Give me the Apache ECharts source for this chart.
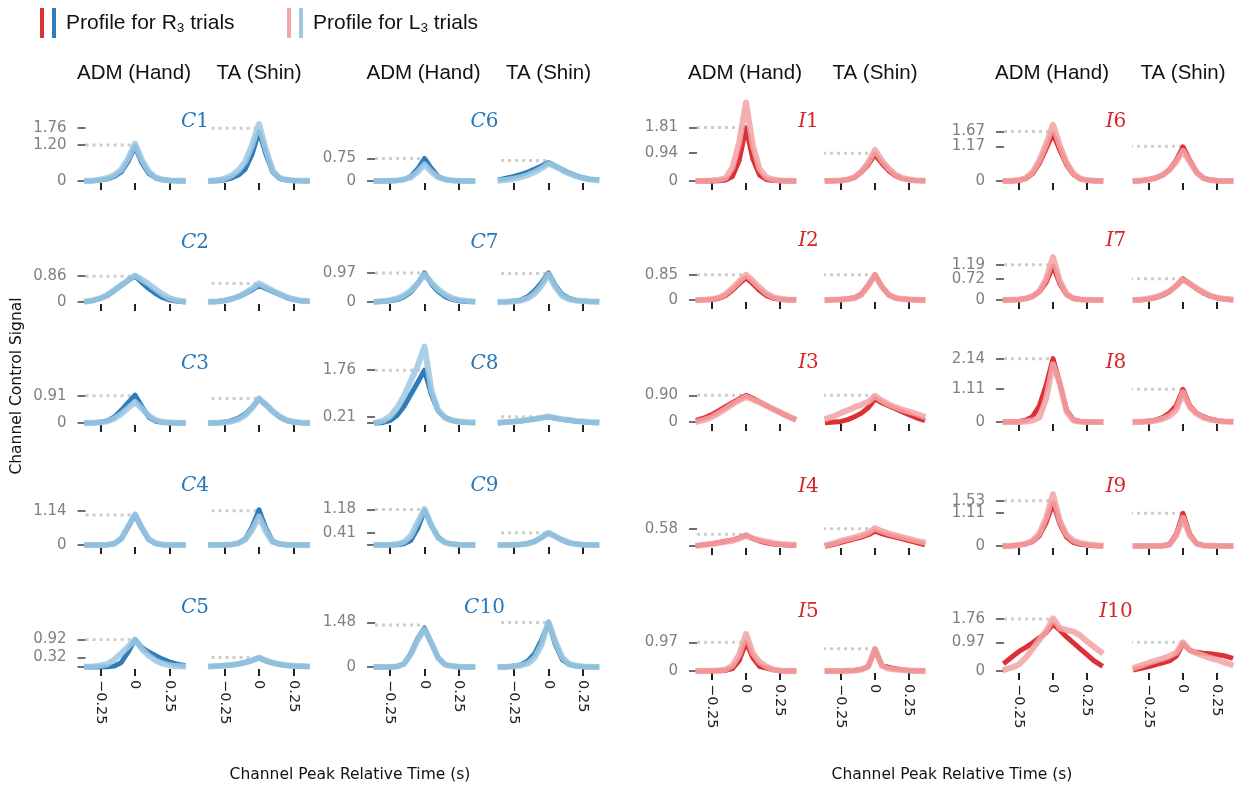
<!DOCTYPE html>
<html><head><meta charset="utf-8">
<script src="https://cdn.jsdelivr.net/npm/echarts@6/dist/echarts.min.js"></script>
<style>html,body{margin:0;padding:0;background:#fff}#c{width:1239px;height:787px}</style>
</head><body><div id="c"></div>
<script>
// ---------------- data ----------------
const TIME = [-0.35,-0.3,-0.25,-0.2,-0.15,-0.1,-0.05,0,0.05,0.1,0.15,0.2,0.25,0.3,0.35];
const X_TICKS = [-0.25, 0, 0.25];
const X_TICK_LABELS = ['\u22120.25', '0', '0.25'];
const PANEL_NAMES = ['C1','C2','C3','C4','C5','C6','C7','C8','C9','C10','I1','I2','I3','I4','I5','I6','I7','I8','I9','I10'];

const C1_ADM_R3 = [0,0.01,0.03,0.07,0.15,0.3,0.65,1.15,0.6,0.25,0.1,0.04,0.02,0.01,0];
const C1_ADM_L3 = [0.01,0.02,0.05,0.1,0.2,0.38,0.75,1.25,0.7,0.32,0.12,0.05,0.02,0.01,0.01];
const C1_TA_R3  = [0,0.01,0.04,0.1,0.2,0.4,0.9,1.65,0.9,0.3,0.08,0.03,0.02,0.01,0];
const C1_TA_L3  = [0.01,0.03,0.08,0.18,0.35,0.65,1.2,1.9,1.05,0.35,0.1,0.04,0.02,0.01,0.01];

const C2_ADM_R3 = [0.02,0.06,0.12,0.22,0.38,0.55,0.72,0.86,0.65,0.45,0.28,0.15,0.07,0.03,0.01];
const C2_ADM_L3 = [0.02,0.06,0.13,0.24,0.4,0.57,0.73,0.88,0.75,0.6,0.42,0.26,0.13,0.06,0.03];
const C2_TA_R3  = [0.01,0.02,0.05,0.1,0.18,0.28,0.4,0.55,0.45,0.35,0.25,0.15,0.08,0.04,0.02];
const C2_TA_L3  = [0.01,0.02,0.05,0.1,0.18,0.3,0.45,0.62,0.5,0.38,0.27,0.17,0.1,0.05,0.03];

const C3_ADM_R3 = [0,0.01,0.03,0.08,0.2,0.42,0.68,0.93,0.55,0.2,0.06,0.02,0.01,0,0];
const C3_ADM_L3 = [0,0.01,0.02,0.06,0.15,0.3,0.5,0.7,0.48,0.25,0.1,0.04,0.02,0.01,0];
const C3_TA_R3  = [0,0.01,0.03,0.08,0.16,0.3,0.52,0.8,0.6,0.38,0.2,0.08,0.03,0.01,0];
const C3_TA_L3  = [0,0.01,0.02,0.05,0.12,0.26,0.5,0.82,0.62,0.4,0.22,0.1,0.04,0.02,0.01];

const C4_ADM_R3 = [0,0,0,0.01,0.04,0.2,0.6,1.0,0.55,0.18,0.05,0.01,0,0,0];
const C4_ADM_L3 = [0,0,0,0.01,0.05,0.22,0.62,1.02,0.58,0.2,0.06,0.02,0.01,0,0];
const C4_TA_R3  = [0,0,0.01,0.02,0.06,0.2,0.6,1.17,0.55,0.12,0.03,0.01,0,0,0];
const C4_TA_L3  = [0,0,0.01,0.02,0.06,0.18,0.5,0.95,0.45,0.1,0.03,0.01,0,0,0];

const C5_ADM_R3 = [0,0,0,0.01,0.03,0.15,0.5,0.92,0.65,0.5,0.38,0.26,0.17,0.1,0.06];
const C5_ADM_L3 = [0.01,0.02,0.05,0.1,0.25,0.45,0.68,0.9,0.6,0.38,0.22,0.12,0.06,0.03,0.02];
const C5_TA_R3  = [0.02,0.03,0.05,0.07,0.1,0.15,0.22,0.3,0.2,0.13,0.08,0.05,0.03,0.02,0.02];
const C5_TA_L3  = [0.02,0.03,0.05,0.07,0.1,0.15,0.22,0.32,0.22,0.14,0.09,0.06,0.04,0.03,0.02];

const C6_ADM_R3 = [0,0,0.01,0.02,0.05,0.15,0.4,0.75,0.42,0.15,0.05,0.02,0.01,0,0];
const C6_ADM_L3 = [0,0,0.01,0.02,0.05,0.12,0.3,0.55,0.3,0.12,0.05,0.02,0.01,0,0];
const C6_TA_R3  = [0.05,0.1,0.15,0.22,0.3,0.4,0.5,0.62,0.5,0.38,0.27,0.18,0.11,0.06,0.04];
const C6_TA_L3  = [0.02,0.04,0.08,0.13,0.2,0.3,0.42,0.58,0.48,0.36,0.25,0.16,0.1,0.06,0.03];

const C7_ADM_R3 = [0.01,0.02,0.04,0.08,0.17,0.33,0.6,0.97,0.6,0.35,0.18,0.09,0.04,0.02,0.01];
const C7_ADM_L3 = [0.01,0.03,0.06,0.12,0.22,0.38,0.62,0.92,0.65,0.42,0.25,0.13,0.07,0.04,0.02];
const C7_TA_R3  = [0,0.01,0.03,0.07,0.18,0.38,0.65,0.97,0.55,0.25,0.12,0.06,0.03,0.02,0.01];
const C7_TA_L3  = [0,0.01,0.02,0.05,0.12,0.28,0.55,0.92,0.5,0.2,0.09,0.05,0.03,0.02,0.01];

const C8_ADM_R3 = [0,0.02,0.08,0.25,0.55,0.95,1.35,1.76,0.95,0.4,0.18,0.08,0.04,0.02,0.01];
const C8_ADM_L3 = [0.02,0.08,0.22,0.5,0.9,1.4,1.9,2.55,1.1,0.42,0.18,0.09,0.05,0.03,0.02];
const C8_TA_R3  = [0.01,0.03,0.05,0.07,0.1,0.13,0.17,0.21,0.16,0.12,0.09,0.06,0.04,0.02,0.01];
const C8_TA_L3  = [0.02,0.03,0.05,0.08,0.1,0.13,0.17,0.22,0.17,0.13,0.1,0.07,0.05,0.03,0.02];

const C9_ADM_R3 = [0,0,0,0.01,0.04,0.15,0.55,1.15,0.65,0.25,0.08,0.03,0.01,0,0];
const C9_ADM_L3 = [0,0,0.01,0.03,0.1,0.3,0.75,1.2,0.65,0.25,0.08,0.03,0.01,0,0];
const C9_TA_R3  = [0,0,0.01,0.02,0.05,0.12,0.25,0.4,0.28,0.16,0.07,0.03,0.01,0,0];
const C9_TA_L3  = [0,0,0.01,0.02,0.05,0.12,0.26,0.41,0.29,0.17,0.08,0.03,0.01,0,0];

const C10_ADM_R3 = [0,0,0,0.02,0.1,0.45,0.95,1.3,0.8,0.3,0.08,0.03,0.01,0,0];
const C10_ADM_L3 = [0,0,0,0.02,0.1,0.42,0.9,1.25,0.8,0.3,0.08,0.03,0.01,0,0];
const C10_TA_R3  = [0,0.01,0.03,0.08,0.2,0.45,0.9,1.48,0.75,0.25,0.08,0.03,0.01,0,0];
const C10_TA_L3  = [0,0.01,0.02,0.05,0.12,0.32,0.75,1.5,0.85,0.32,0.1,0.04,0.02,0.01,0];

const I1_ADM_R3 = [0,0,0,0.01,0.03,0.15,0.7,1.8,0.75,0.2,0.05,0.02,0.01,0,0];
const I1_ADM_L3 = [0,0.01,0.02,0.04,0.1,0.45,1.3,2.65,1.2,0.4,0.12,0.05,0.02,0.01,0];
const I1_TA_R3  = [0,0.01,0.02,0.05,0.12,0.3,0.55,0.9,0.6,0.35,0.18,0.08,0.04,0.02,0.01];
const I1_TA_L3  = [0,0.01,0.02,0.05,0.13,0.32,0.62,1.05,0.7,0.42,0.22,0.1,0.05,0.02,0.01];

const I2_ADM_R3 = [0,0.01,0.02,0.05,0.15,0.33,0.55,0.75,0.55,0.32,0.15,0.06,0.02,0.01,0];
const I2_ADM_L3 = [0,0.01,0.03,0.08,0.2,0.4,0.63,0.85,0.65,0.42,0.22,0.1,0.04,0.02,0.01];
const I2_TA_R3  = [0,0.01,0.02,0.04,0.08,0.2,0.5,0.85,0.45,0.18,0.07,0.03,0.02,0.01,0];
const I2_TA_L3  = [0,0.01,0.02,0.03,0.07,0.18,0.48,0.85,0.45,0.18,0.07,0.03,0.02,0.01,0];

const I3_ADM_R3 = [0.08,0.15,0.25,0.38,0.52,0.65,0.78,0.9,0.8,0.68,0.56,0.44,0.32,0.2,0.1];
const I3_ADM_L3 = [0.02,0.08,0.17,0.3,0.45,0.6,0.73,0.85,0.76,0.66,0.55,0.44,0.33,0.22,0.12];
const I3_TA_R3  = [-0.02,0,0.02,0.08,0.18,0.3,0.48,0.78,0.65,0.55,0.45,0.35,0.25,0.15,0.07];
const I3_TA_L3  = [0.12,0.2,0.3,0.4,0.5,0.58,0.68,0.88,0.72,0.6,0.5,0.42,0.35,0.28,0.2];

const I4_ADM_R3 = [0.02,0.05,0.08,0.12,0.16,0.2,0.27,0.37,0.25,0.17,0.11,0.07,0.05,0.03,0.02];
const I4_ADM_L3 = [0.02,0.04,0.07,0.1,0.14,0.18,0.25,0.35,0.26,0.2,0.15,0.1,0.07,0.05,0.04];
const I4_TA_R3  = [0.01,0.06,0.12,0.18,0.24,0.3,0.38,0.5,0.42,0.35,0.3,0.24,0.18,0.12,0.06];
const I4_TA_L3  = [0.04,0.1,0.17,0.23,0.29,0.36,0.45,0.6,0.5,0.42,0.36,0.3,0.24,0.18,0.13];

const I5_ADM_R3 = [0,0,0,0.01,0.02,0.08,0.35,0.97,0.45,0.15,0.1,0.04,0.01,0,0];
const I5_ADM_L3 = [0,0,0.01,0.02,0.05,0.18,0.55,1.25,0.6,0.3,0.15,0.05,0.02,0.01,0];
const I5_TA_R3  = [0,0,0,0.01,0.02,0.05,0.15,0.72,0.2,0.12,0.08,0.04,0.02,0.01,0];
const I5_TA_L3  = [0,0,0,0.01,0.02,0.05,0.15,0.75,0.18,0.08,0.05,0.03,0.02,0.01,0];

const I6_ADM_R3 = [0,0,0.02,0.08,0.25,0.6,1.1,1.6,1.05,0.55,0.22,0.07,0.02,0.01,0];
const I6_ADM_L3 = [0,0.01,0.03,0.1,0.3,0.7,1.25,1.9,1.2,0.62,0.25,0.08,0.03,0.01,0];
const I6_TA_R3  = [0,0.02,0.05,0.1,0.2,0.38,0.7,1.15,0.7,0.3,0.1,0.03,0.01,0,0];
const I6_TA_L3  = [0,0.02,0.05,0.1,0.2,0.38,0.65,1.02,0.65,0.28,0.1,0.03,0.01,0,0];

const I7_ADM_R3 = [0,0.01,0.02,0.05,0.12,0.28,0.6,1.15,0.55,0.18,0.05,0.02,0.01,0,0];
const I7_ADM_L3 = [0,0.01,0.02,0.05,0.12,0.3,0.72,1.45,0.65,0.2,0.06,0.02,0.01,0,0];
const I7_TA_R3  = [0,0.01,0.03,0.08,0.16,0.28,0.48,0.72,0.55,0.38,0.24,0.13,0.07,0.03,0.01];
const I7_TA_L3  = [0,0.02,0.05,0.1,0.18,0.3,0.48,0.7,0.55,0.4,0.26,0.15,0.08,0.04,0.02];

const I8_ADM_R3 = [0,0.01,0.02,0.06,0.18,0.55,1.25,2.14,1.3,0.4,0.08,0.02,0.01,0,0];
const I8_ADM_L3 = [0,0,0,0.02,0.05,0.15,0.8,1.95,1.3,0.35,0.05,0.01,0,0,0];
const I8_TA_R3  = [0,0.01,0.03,0.07,0.15,0.3,0.55,1.1,0.55,0.3,0.18,0.1,0.05,0.02,0.01];
const I8_TA_L3  = [0,0.01,0.02,0.05,0.1,0.2,0.4,1.0,0.5,0.28,0.15,0.08,0.04,0.02,0.01];

const I9_ADM_R3 = [0,0.01,0.03,0.07,0.15,0.35,0.8,1.45,0.75,0.3,0.12,0.06,0.03,0.01,0];
const I9_ADM_L3 = [0,0.01,0.03,0.08,0.18,0.42,0.95,1.75,0.85,0.38,0.18,0.1,0.06,0.03,0.01];
const I9_TA_R3  = [0,0,0,0,0.01,0.05,0.4,1.1,0.4,0.08,0.02,0.01,0,0,0];
const I9_TA_L3  = [0,0,0,0,0.01,0.05,0.35,0.95,0.35,0.08,0.02,0.01,0,0,0];

const I10_ADM_R3 = [0.3,0.48,0.66,0.8,0.95,1.12,1.3,1.58,1.38,1.15,0.95,0.75,0.55,0.35,0.2];
const I10_ADM_L3 = [0.05,0.12,0.22,0.45,0.75,1.05,1.35,1.78,1.45,1.38,1.33,1.2,1.0,0.82,0.65];
const I10_TA_R3  = [0.05,0.1,0.15,0.22,0.28,0.34,0.5,0.92,0.7,0.63,0.6,0.58,0.55,0.52,0.45];
const I10_TA_L3  = [0.12,0.2,0.28,0.35,0.42,0.5,0.62,0.97,0.7,0.6,0.52,0.44,0.38,0.3,0.22];

// reference (dotted) levels per panel
const PEAK_ADM = [1.20,0.86,0.91,1.00,0.92,0.75,0.97,1.76,1.18,1.40, 1.81,0.85,0.90,0.40,0.97,1.67,1.19,2.14,1.53,1.76];
const PEAK_TA  = [1.76,0.62,0.82,1.14,0.32,0.68,0.95,0.21,0.41,1.48, 0.94,0.85,0.90,0.58,0.75,1.17,0.72,1.11,1.11,0.97];
// y tick marks and y tick labels per panel
const Y_TICKS = [[0,1.2,1.76],[0,0.86],[0,0.91],[0,1.14],[0,0.32,0.92],[0,0.75],[0,0.97],[0,0.21,1.76],[0,0.41,1.18],[0,1.48],
                 [0,0.94,1.81],[0,0.85],[0,0.9],[0,0.58],[0,0.97],[0,1.17,1.67],[0,0.72,1.19],[0,1.11,2.14],[0,1.11,1.53],[0,0.97,1.76]];
const Y_LABELS = [[0,1.2,1.76],[0,0.86],[0,0.91],[0,1.14],[0.32,0.92],[0,0.75],[0,0.97],[0.21,1.76],[0.41,1.18],[0,1.48],
                 [0,0.94,1.81],[0,0.85],[0,0.9],[0.58],[0,0.97],[0,1.17,1.67],[0,0.72,1.19],[0,1.11,2.14],[0,1.11,1.53],[0,0.97,1.76]];

const SERIES_DATA = {
  C1:[C1_ADM_R3,C1_ADM_L3,C1_TA_R3,C1_TA_L3], C2:[C2_ADM_R3,C2_ADM_L3,C2_TA_R3,C2_TA_L3],
  C3:[C3_ADM_R3,C3_ADM_L3,C3_TA_R3,C3_TA_L3], C4:[C4_ADM_R3,C4_ADM_L3,C4_TA_R3,C4_TA_L3],
  C5:[C5_ADM_R3,C5_ADM_L3,C5_TA_R3,C5_TA_L3], C6:[C6_ADM_R3,C6_ADM_L3,C6_TA_R3,C6_TA_L3],
  C7:[C7_ADM_R3,C7_ADM_L3,C7_TA_R3,C7_TA_L3], C8:[C8_ADM_R3,C8_ADM_L3,C8_TA_R3,C8_TA_L3],
  C9:[C9_ADM_R3,C9_ADM_L3,C9_TA_R3,C9_TA_L3], C10:[C10_ADM_R3,C10_ADM_L3,C10_TA_R3,C10_TA_L3],
  I1:[I1_ADM_R3,I1_ADM_L3,I1_TA_R3,I1_TA_L3], I2:[I2_ADM_R3,I2_ADM_L3,I2_TA_R3,I2_TA_L3],
  I3:[I3_ADM_R3,I3_ADM_L3,I3_TA_R3,I3_TA_L3], I4:[I4_ADM_R3,I4_ADM_L3,I4_TA_R3,I4_TA_L3],
  I5:[I5_ADM_R3,I5_ADM_L3,I5_TA_R3,I5_TA_L3], I6:[I6_ADM_R3,I6_ADM_L3,I6_TA_R3,I6_TA_L3],
  I7:[I7_ADM_R3,I7_ADM_L3,I7_TA_R3,I7_TA_L3], I8:[I8_ADM_R3,I8_ADM_L3,I8_TA_R3,I8_TA_L3],
  I9:[I9_ADM_R3,I9_ADM_L3,I9_TA_R3,I9_TA_L3], I10:[I10_ADM_R3,I10_ADM_L3,I10_TA_R3,I10_TA_L3]
};

// ---------------- layout / style ----------------
const LAYOUT = {
  C: {pxX: 137.3, pxY: 30, rows: [181, 302, 423, 545, 667]},
  I: {pxX: 136, pxY: 29.6, rows: [181, 300, 422, 546, 671]}
};
const X_MIN = -0.36, X_MAX = 0.36, Y_MIN = -0.07, Y_MAX = 2.8;
const GROUP_ZERO = [[135, 259], [424.5, 548.5], [746, 875], [1053, 1183]];
const COLORS = {
  C: {dark: '#2f7cb8', light: '#9fc8e3', title: '#2878b8'},
  I: {dark: '#dc3036', light: '#f2a4a6', title: '#d62728'}
};
const SANS = 'DejaVu Sans';
const ARIAL = 'Liberation Sans';

const grids = [], xAxes = [], yAxes = [], series = [], graphics = [];
const fmtY = v => (Math.abs(v) < 1e-9 ? '0' : v.toFixed(2));
const fmtX = v => X_TICK_LABELS[X_TICKS.findIndex(t => Math.abs(t - v) < 1e-9)] || '';
const yLabelStyle = {margin: 19, fontSize: 15, color: '#808080', fontFamily: SANS, formatter: fmtY, hideOverlap: false};

PANEL_NAMES.forEach((name, p) => {
  const group = Math.floor(p / 5), row = p % 5;
  const kind = name[0];
  const col = COLORS[kind];
  const L = LAYOUT[kind];
  const base = L.rows[row];
  const zeros = GROUP_ZERO[group];
  const gw = (X_MAX - X_MIN) * L.pxX, gh = (Y_MAX - Y_MIN) * L.pxY;
  const top = base - Y_MAX * L.pxY;
  const isBottom = row === 4;
  const d = SERIES_DATA[name];
  // neighbouring labels go on two separate (coincident) axes so none is dropped
  const labelsA = Y_LABELS[p].filter((v, i) => i % 2 === 0);
  const labelsB = Y_LABELS[p].filter((v, i) => i % 2 === 1);
  for (let m = 0; m < 2; m++) {
    const gi = grids.length;
    grids.push({left: zeros[m] + X_MIN * L.pxX, top: top, width: gw, height: gh, containLabel: false, outerBoundsMode: 'none'});
    xAxes.push({
      type: 'value', gridIndex: gi, min: X_MIN, max: X_MAX, position: 'bottom',
      axisLine: {show: false, onZero: false}, splitLine: {show: false},
      axisTick: {show: true, customValues: X_TICKS, length: 7, lineStyle: {color: '#222', width: 2}},
      axisLabel: {show: isBottom, customValues: X_TICKS, rotate: -90, margin: 11, fontSize: 14.5, color: '#222', fontFamily: SANS, formatter: fmtX, hideOverlap: false}
    });
    const yi = yAxes.length;
    yAxes.push({
      type: 'value', gridIndex: gi, min: Y_MIN, max: Y_MAX, show: m === 0, position: 'left',
      axisLine: {show: false, onZero: false}, splitLine: {show: false},
      axisTick: {show: true, customValues: Y_TICKS[p], length: 8, lineStyle: {color: '#6f6f6f', width: 2}},
      axisLabel: Object.assign({show: true, customValues: labelsA}, yLabelStyle)
    });
    if (m === 0 && labelsB.length) {
      yAxes.push({
        type: 'value', gridIndex: gi, min: Y_MIN, max: Y_MAX, position: 'left', offset: 0,
        axisLine: {show: false, onZero: false}, splitLine: {show: false}, axisTick: {show: false},
        axisLabel: Object.assign({show: true, customValues: labelsB}, yLabelStyle)
      });
    }
    // dotted reference line to this muscle's peak, starting from the ADM y-axis
    const level = m === 0 ? PEAK_ADM[p] : PEAK_TA[p];
    const startX = m === 0 ? X_MIN : X_MIN - (zeros[1] - zeros[0]) / L.pxX;
    series.push({
      type: 'line', xAxisIndex: gi, yAxisIndex: yi, data: [[startX, level], [0, level]],
      symbol: 'none', clip: false, silent: true, z: 1, animation: false,
      lineStyle: {color: '#cdcdcd', width: 3, type: [3, 4]}
    });
    const r3 = d[m * 2], l3 = d[m * 2 + 1];
    series.push({
      type: 'line', xAxisIndex: gi, yAxisIndex: yi, name: name + (m ? ' TA' : ' ADM') + ' R3',
      data: TIME.map((t, i) => [t, r3[i]]), symbol: 'none', z: 2, animation: false, silent: true,
      lineStyle: {color: col.dark, width: 5, cap: 'square', join: 'round'}
    });
    series.push({
      type: 'line', xAxisIndex: gi, yAxisIndex: yi, name: name + (m ? ' TA' : ' ADM') + ' L3',
      data: TIME.map((t, i) => [t, l3[i]]), symbol: 'none', z: 3, animation: false, silent: true,
      lineStyle: {color: col.light, width: 6, opacity: 0.88, cap: 'square', join: 'round'}
    });
  }
  // panel title
  graphics.push({
    type: 'text', x: (zeros[0] + zeros[1]) / 2 - 2, y: base - 59, silent: true,
    style: {
      text: '{i|' + kind + '}{n|' + name.slice(1) + '}', align: 'center', verticalAlign: 'middle',
      rich: {
        i: {fontFamily: 'DejaVu Serif', fontStyle: 'italic', fontSize: 20, fill: col.title},
        n: {fontFamily: 'DejaVu Serif', fontSize: 20, fill: col.title}
      }
    }
  });
});

// column headers
GROUP_ZERO.forEach(z => {
  graphics.push({type: 'text', x: z[0] - 1, y: 73, silent: true,
    style: {text: 'ADM (Hand)', align: 'center', verticalAlign: 'middle', fontFamily: ARIAL, fontSize: 20.5, fill: '#111'}});
  graphics.push({type: 'text', x: z[1], y: 73, silent: true,
    style: {text: 'TA (Shin)', align: 'center', verticalAlign: 'middle', fontFamily: ARIAL, fontSize: 20.5, fill: '#111'}});
});

// legend
const legendItems = [
  {x: 40, colors: [COLORS.I.dark, COLORS.C.dark], letter: 'R'},
  {x: 287, colors: [COLORS.I.light, COLORS.C.light], letter: 'L'}
];
legendItems.forEach(it => {
  graphics.push({type: 'rect', shape: {x: it.x, y: 8, width: 4, height: 30}, style: {fill: it.colors[0]}, silent: true});
  graphics.push({type: 'rect', shape: {x: it.x + 12, y: 8, width: 4, height: 30}, style: {fill: it.colors[1]}, silent: true});
  graphics.push({type: 'text', x: it.x + 26, y: 23, silent: true,
    style: {text: '{n|Profile for ' + it.letter + '}{s|3}{n| trials}', verticalAlign: 'middle',
      rich: {n: {fontFamily: ARIAL, fontSize: 21, fill: '#111', lineHeight: 26},
             s: {fontFamily: ARIAL, fontSize: 13.5, fill: '#111', lineHeight: 26, padding: [11, 0, 0, 0]}}}});
});

// axis titles
graphics.push({type: 'text', x: 350, y: 775, silent: true,
  style: {text: 'Channel Peak Relative Time (s)', align: 'center', verticalAlign: 'middle', fontFamily: SANS, fontSize: 15.5, fill: '#111'}});
graphics.push({type: 'text', x: 952, y: 775, silent: true,
  style: {text: 'Channel Peak Relative Time (s)', align: 'center', verticalAlign: 'middle', fontFamily: SANS, fontSize: 15.5, fill: '#111'}});
graphics.push({type: 'text', x: 17, y: 386, rotation: Math.PI / 2, silent: true,
  style: {text: 'Channel Control Signal', align: 'center', verticalAlign: 'middle', fontFamily: SANS, fontSize: 15.5, fill: '#111'}});

const chart = echarts.init(document.getElementById('c'), null, {renderer: 'canvas'});
chart.setOption({
  animation: false,
  backgroundColor: '#fff',
  grid: grids, xAxis: xAxes, yAxis: yAxes, series: series, graphic: graphics
});
</script></body></html>
